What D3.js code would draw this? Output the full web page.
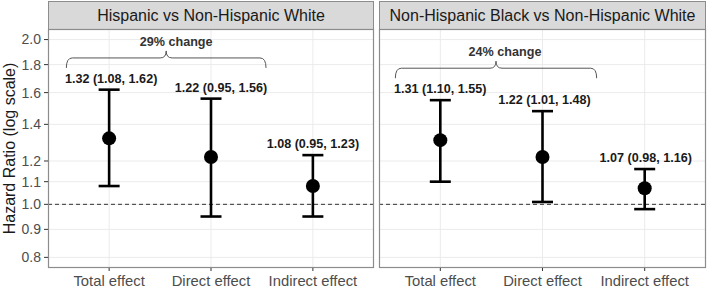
<!DOCTYPE html>
<html><head><meta charset="utf-8">
<script src="https://cdn.jsdelivr.net/npm/d3@7"></script>
<style>
body{margin:0;background:#fff}
text{font-family:"Liberation Sans",Arial,Helvetica,sans-serif}
</style></head>
<body><svg id="c" width="709" height="289"></svg>
<script>
// ---- data ----
const panels = ["Hispanic vs Non-Hispanic White", "Non-Hispanic Black vs Non-Hispanic White"];
const categories = ["Total effect", "Direct effect", "Indirect effect"];
const hrHispanic = [1.32, 1.22, 1.08];
const lowerHispanic = [1.08, 0.95, 0.95];
const upperHispanic = [1.62, 1.56, 1.23];
const hrBlack = [1.31, 1.22, 1.07];
const lowerBlack = [1.10, 1.01, 0.98];
const upperBlack = [1.55, 1.48, 1.16];
const changeLabels = ["29% change", "24% change"];
const braceFrom = [-0.42, -0.44];   // category index units
const braceTo = [1.54, 1.53];
const braceEndHR = [1.775, 1.70];
const yTicks = [0.8, 0.9, 1.0, 1.1, 1.2, 1.4, 1.6, 1.8, 2.0];
const refLine = 1.0;

const series = [
  {hr: hrHispanic, lo: lowerHispanic, hi: upperHispanic},
  {hr: hrBlack, lo: lowerBlack, hi: upperBlack}
];

// ---- layout ----
const svg = d3.select("#c");
const panelX = [[48, 374], [379, 706]];
const stripTop = 1, panelTop = 29, panelBottom = 268;
const labelShift = [[2, 10, 0], [0, 2, 1]];

const y = d3.scaleLog().domain([0.765, 2.091]).range([panelBottom, panelTop]);
const gridCol = "#ebebeb", borderCol = "#8c8c8c", tickCol = "#4d4d4d";

panels.forEach((title, p) => {
  const [x0, x1] = panelX[p];
  const x = d3.scaleLinear().domain([-0.6, categories.length - 0.4]).range([x0, x1]);
  const g = svg.append("g");

  // grid
  g.selectAll(".hg").data(yTicks).join("line")
    .attr("x1", x0).attr("x2", x1).attr("y1", d => y(d)).attr("y2", d => y(d))
    .attr("stroke", gridCol).attr("stroke-width", 1);
  g.selectAll(".vg").data(categories).join("line")
    .attr("x1", (d, i) => x(i)).attr("x2", (d, i) => x(i))
    .attr("y1", panelTop).attr("y2", panelBottom)
    .attr("stroke", gridCol).attr("stroke-width", 1);

  // reference line
  g.append("line").attr("x1", x0).attr("x2", x1)
    .attr("y1", y(refLine)).attr("y2", y(refLine))
    .attr("stroke", "#333").attr("stroke-width", 1).attr("stroke-dasharray", "4,3");

  // strip
  g.append("rect").attr("x", x0 + 0.5).attr("y", stripTop + 0.5)
    .attr("width", x1 - x0 - 1).attr("height", panelTop - stripTop)
    .attr("fill", "#d9d9d9").attr("stroke", borderCol).attr("stroke-width", 1);
  g.append("text").attr("x", (x0 + x1) / 2).attr("y", 21)
    .attr("text-anchor", "middle").attr("font-size", 16).attr("fill", "#1a1a1a").text(title);

  // panel border
  g.append("rect").attr("x", x0 + 0.5).attr("y", panelTop + 0.5)
    .attr("width", x1 - x0 - 1).attr("height", panelBottom - panelTop - 1)
    .attr("fill", "none").attr("stroke", borderCol).attr("stroke-width", 1.2);

  // x axis
  const xa = g.append("g");
  categories.forEach((c, i) => {
    xa.append("line").attr("x1", x(i)).attr("x2", x(i))
      .attr("y1", panelBottom).attr("y2", panelBottom + 3).attr("stroke", "#333");
    xa.append("text").attr("x", x(i)).attr("y", 286).attr("text-anchor", "middle")
      .attr("font-size", 14.8).attr("fill", tickCol).text(c);
  });

  // error bars & points
  const s = series[p];
  const capW = 21;
  categories.forEach((c, i) => {
    const cx = x(i);
    g.append("line").attr("x1", cx).attr("x2", cx).attr("y1", y(s.lo[i])).attr("y2", y(s.hi[i]))
      .attr("stroke", "#000").attr("stroke-width", 2.6);
    [s.lo[i], s.hi[i]].forEach(v => {
      g.append("line").attr("x1", cx - capW / 2).attr("x2", cx + capW / 2)
        .attr("y1", y(v)).attr("y2", y(v)).attr("stroke", "#000").attr("stroke-width", 2.6);
    });
    g.append("circle").attr("cx", cx).attr("cy", y(s.hr[i])).attr("r", 7).attr("fill", "#000");
    g.append("text").attr("x", cx + labelShift[p][i]).attr("y", y(s.hi[i]) - 7)
      .attr("text-anchor", "middle").attr("font-size", 12.6).attr("font-weight", "bold")
      .attr("fill", "#1a1a1a")
      .text(`${s.hr[i].toFixed(2)} (${s.lo[i].toFixed(2)}, ${s.hi[i].toFixed(2)})`);
  });

  // brace
  const bx0 = x(braceFrom[p]), bx1 = x(braceTo[p]);
  const yE = y(braceEndHR[p]), yF = yE - 10, yC = yF - 7;
  const mid = (bx0 + bx1) / 2, r = 6;
  const path = `M${bx0},${yE} Q${bx0},${yF} ${bx0 + r},${yF} L${mid - r},${yF} Q${mid},${yF} ${mid},${yC} Q${mid},${yF} ${mid + r},${yF} L${bx1 - r},${yF} Q${bx1},${yF} ${bx1},${yE}`;
  g.append("path").attr("d", path).attr("fill", "none").attr("stroke", "#555").attr("stroke-width", 1);
  g.append("text").attr("x", mid + (p === 0 ? 10 : 9)).attr("y", yC - 5)
    .attr("text-anchor", "middle").attr("font-size", 12.6).attr("font-weight", "bold")
    .attr("fill", "#333").text(changeLabels[p]);
});

// y axis (left panel only)
const ya = svg.append("g");
yTicks.forEach(t => {
  ya.append("line").attr("x1", 44).attr("x2", 48).attr("y1", y(t)).attr("y2", y(t)).attr("stroke", "#333");
  ya.append("text").attr("x", 41).attr("y", y(t)).attr("dy", "0.35em").attr("text-anchor", "end")
    .attr("font-size", 14).attr("fill", tickCol).text(d3.format(".1f")(t));
});
svg.append("text").attr("transform", `translate(15,${(panelTop + panelBottom) / 2}) rotate(-90)`)
  .attr("text-anchor", "middle").attr("font-size", 16).attr("fill", "#1a1a1a")
  .text("Hazard Ratio (log scale)");
</script></body></html>
